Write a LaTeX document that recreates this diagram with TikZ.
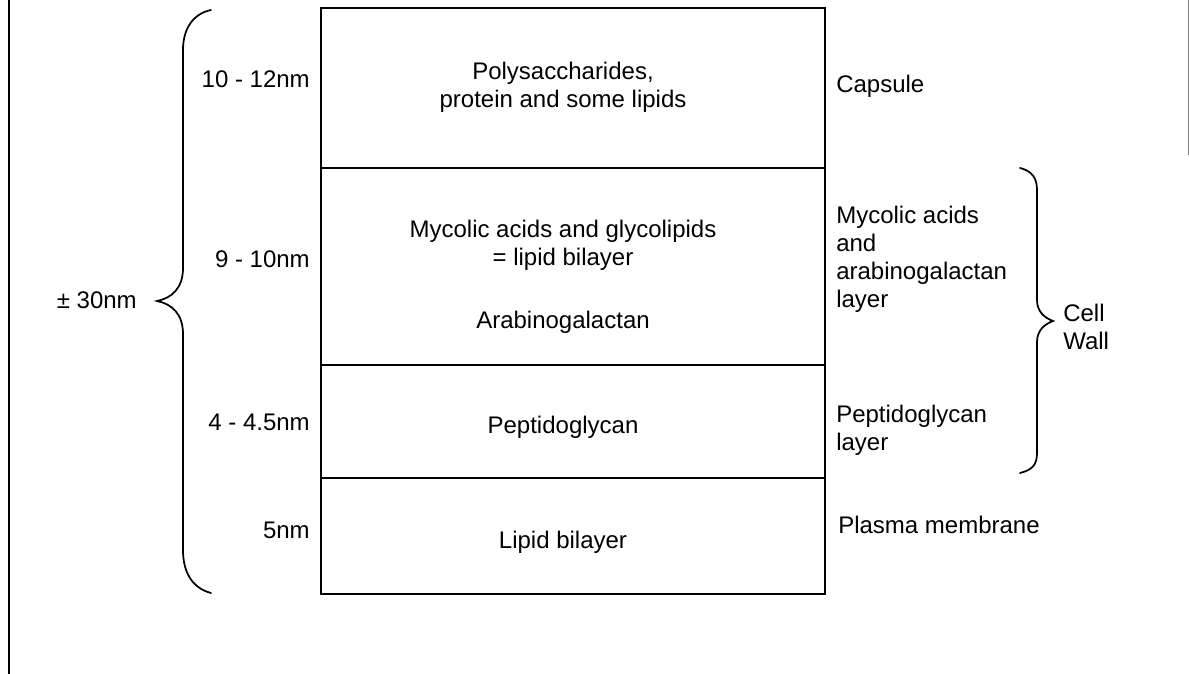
\documentclass[tikz,border=0pt]{standalone}
\usepackage{fontspec}
\setmainfont{Liberation Sans}
\begin{document}
\begin{tikzpicture}[x=0.75pt,y=-0.75pt,
    lbl/.style={font=\fontsize{18}{21}\selectfont,inner sep=0pt},
    frame/.style={line width=1.5pt},
    curly/.style={line width=1.3pt,line cap=round}]

    \useasboundingbox (0,0) rectangle (1189,674);

    % page edges
    \draw[frame] (9,0) -- (9,674);
    \draw[gray,thin] (1188,0) -- (1188,155);

    % layer stack
    \pgfmathsetmacro{\xl}{321}
    \pgfmathsetmacro{\xr}{825}
    \draw[frame] (\xl,8) rectangle (\xr,594);
    \foreach \y in {168,365,478} {
        \draw[frame] (\xl,\y) -- (\xr,\y);
    }

    % thickness of each layer
    \node[lbl,anchor=base east] (thCap) at (310,88) {10 - 12nm};
    \node[lbl,anchor=base east] (thMyc) at (310,267) {9 - 10nm};
    \node[lbl,anchor=base east] (thPep) at (310,430) {4 - 4.5nm};
    \node[lbl,anchor=base east] (thMem) at (310,538) {5nm};

    % total
    \node[lbl,anchor=base east] (total) at (137,308) {± 30nm};
    \draw[curly] (211,10) .. controls (192,14) and (183,30) .. (183,50)
        -- (183,268) .. controls (183,288) and (172,298) .. (157,301)
        .. controls (172,304) and (183,314) .. (183,334)
        -- (183,550) .. controls (183,572) and (192,588) .. (211,593);

    % contents of the layers (base = last line)
    \node[lbl,align=center,anchor=base] (inCap) at (563,108)
        {Polysaccharides,\\protein and some lipids};
    \node[lbl,align=center,anchor=base] (inMyc) at (563,265)
        {Mycolic acids and glycolipids\\= lipid bilayer};
    \node[lbl,anchor=base] (inAra) at (563,328) {Arabinogalactan};
    \node[lbl,anchor=base] (inPep) at (563,433) {Peptidoglycan};
    \node[lbl,anchor=base] (inMem) at (563,548) {Lipid bilayer};

    % layer names
    \node[lbl,anchor=base west] (nmCap) at (836,93) {Capsule};
    \node[lbl,align=left,anchor=base west] (nmMyc) at (836,307)
        {Mycolic acids\\and\\arabinogalactan\\layer};
    \node[lbl,align=left,anchor=base west] (nmPep) at (836,450)
        {Peptidoglycan\\layer};
    \node[lbl,anchor=base west] (nmMem) at (838,533) {Plasma membrane};

    % cell wall
    \draw[curly] (1020,168) .. controls (1032,171) and (1037,178) .. (1037,190)
        -- (1037,300) .. controls (1037,312) and (1045,318) .. (1053,321)
        .. controls (1045,324) and (1037,330) .. (1037,342)
        -- (1037,453) .. controls (1037,465) and (1032,470) .. (1020,473);
    \node[lbl,align=left,anchor=base west] (wall) at (1063,349) {Cell\\Wall};

\end{tikzpicture}
\end{document}
